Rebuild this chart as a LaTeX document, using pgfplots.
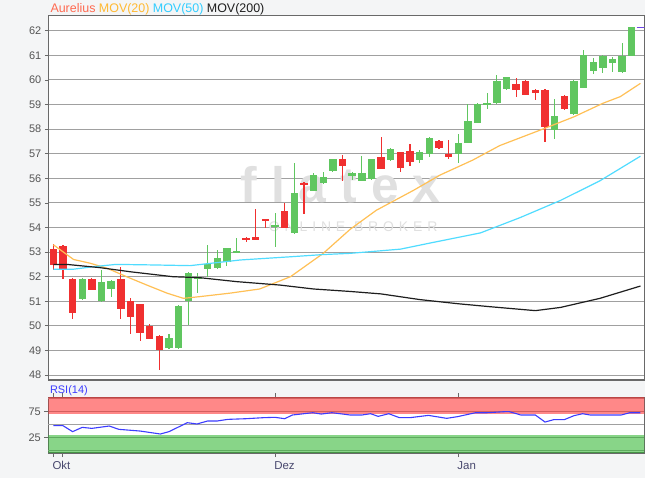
\documentclass[border=0pt]{standalone}
\usepackage{pgfplots}
\pgfplotsset{compat=1.18}
\usepackage{pgfplotstable}
\usepackage{fontspec}
\setmainfont{Liberation Sans}
\definecolor{bgc}{RGB}{244,245,246}
\definecolor{cgreen}{RGB}{96,198,96}
\definecolor{cred}{RGB}{240,48,48}
\definecolor{corange}{RGB}{255,192,85}
\definecolor{ccyan}{RGB}{80,220,255}
\definecolor{cblack}{RGB}{30,30,30}
\definecolor{gridc}{RGB}{160,160,160}
\definecolor{framec}{RGB}{105,105,105}
\definecolor{tickc}{RGB}{85,85,85}
\definecolor{lgred}{RGB}{255,105,80}
\definecolor{lgorange}{RGB}{255,185,50}
\definecolor{lgcyan}{RGB}{50,205,255}
\definecolor{rsiblue}{RGB}{60,60,255}
\definecolor{bandred}{RGB}{255,40,40}
\definecolor{bandgreen}{RGB}{40,180,40}
\definecolor{lastc}{RGB}{110,70,230}
\definecolor{wmark}{RGB}{224,224,224}

% candles: index, open, high, low, close
\pgfplotstableread{
i O H L C
3 51.08 51.93 51.06 51.91
5 51.00 52.27 50.98 51.77
6 51.50 51.86 51.19 51.84
12 49.09 49.66 49.07 49.50
13 49.09 50.84 49.07 50.82
14 51.00 52.18 50.04 52.16
15 51.93 52.16 51.33 51.97
16 52.31 53.28 52.00 52.52
17 52.34 53.10 52.30 52.77
18 52.61 53.17 52.43 53.15
19 53.00 53.56 52.98 53.04
23 54.05 54.58 53.22 54.09
25 53.76 56.63 53.74 55.41
27 55.50 56.20 55.48 56.13
28 55.80 56.24 55.78 56.04
29 56.31 56.80 56.25 56.77
31 56.09 56.26 55.93 56.23
32 55.90 56.90 55.88 56.20
33 55.97 56.80 55.95 56.78
35 56.74 57.22 56.70 57.18
38 56.74 57.17 56.63 57.08
39 57.00 57.67 56.88 57.65
42 57.00 57.80 56.63 57.45
43 57.45 59.02 57.43 58.34
44 58.26 59.05 58.24 59.02
45 58.98 59.46 58.80 59.05
46 59.05 60.20 59.03 59.97
47 59.63 60.13 59.60 60.11
52 57.96 59.21 57.60 58.53
54 58.60 59.98 58.58 59.96
55 59.68 61.22 59.66 61.01
56 60.36 60.88 60.24 60.72
57 60.50 61.00 60.27 60.98
58 60.70 60.94 60.31 60.84
59 60.31 61.49 60.29 60.98
60 60.98 62.17 60.96 62.14
}\upc
\pgfplotstableread{
i O H L C
0 53.12 53.33 52.27 52.48
1 53.26 53.28 51.90 52.27
2 51.91 51.93 50.28 50.51
4 51.91 51.93 51.44 51.46
7 51.91 52.38 50.28 50.69
8 51.01 51.12 49.67 50.35
9 50.89 50.91 49.39 49.72
10 50.00 50.08 49.45 49.47
11 49.59 49.61 48.20 49.00
20 53.55 53.63 53.40 53.50
21 53.58 54.74 53.50 53.53
22 54.34 54.36 53.97 54.26
24 54.68 54.98 53.98 54.00
26 55.82 55.84 54.55 55.71
30 56.77 56.95 55.89 56.50
34 56.85 57.69 56.36 56.38
36 57.06 57.08 56.27 56.43
37 57.12 57.40 56.51 56.67
40 57.52 57.54 57.20 57.24
41 56.98 57.56 56.78 56.88
48 59.83 60.07 59.29 59.59
49 59.96 59.98 59.37 59.39
50 59.59 59.62 59.18 59.48
51 59.59 59.62 57.49 58.07
53 59.36 59.38 58.78 58.80
}\downc
\pgfplotstableread{
i v
0 53.30
2.1 52.70
3.8 52.55
5.6 52.34
7.6 52.00
9.7 51.66
11.8 51.33
13.5 51.12
15.2 51.19
18.3 51.33
21.4 51.50
24.6 52.00
28.0 52.95
30.8 53.93
33.5 54.70
37.4 55.52
40.1 56.13
43.5 56.74
46.3 57.33
50.5 57.96
54.0 58.50
57.0 59.05
58.8 59.32
60.9 59.86
}\movtwenty
\pgfplotstableread{
i v
0 52.30
2 52.30
4 52.40
6.5 52.50
10 52.48
14.2 52.45
19.4 52.68
24.6 52.81
28 52.90
30.8 52.95
36 53.12
39.1 53.37
44.3 53.78
48.4 54.40
52.6 55.10
56.7 55.90
60.9 56.90
}\movfifty
\pgfplotstableread{
i v
0 52.50
1.4 52.50
4.8 52.37
8 52.20
12.4 52.00
15.2 51.96
19 51.80
23.5 51.66
27 51.50
30.8 51.40
34 51.30
38 51.07
42 50.90
45.3 50.78
50 50.62
52.6 50.75
56.7 51.12
60.9 51.62
}\movtwohundred
\pgfplotstableread{
i v
0 47.7
1 47.7
2 36.0
3 44.4
4 42.4
5.8 47.0
6.8 40.5
9 37.2
11.1 31.4
12 36.0
13.9 53.5
14.9 51.0
16 56.8
17 56.8
18.1 60.0
20 61.3
21.8 63.3
23 64.0
24 61.3
24.8 68.5
26.9 73.0
27.8 70.4
28.9 73.0
30.8 68.5
32 68.5
32.9 71.0
33.7 65.9
34.8 71.0
35.9 63.3
37 63.3
38.9 67.8
40.8 62.0
41.9 65.2
43.8 73.0
45 73.0
46.8 75.0
47.3 75.0
48.5 68.5
50 68.5
51 54.8
51.9 59.4
53 59.4
54 67.2
54.9 71.0
55.7 68.5
58 68.5
58.9 68.5
59.8 73.0
60.9 73.0
}\rsi

\begin{document}
\begin{tikzpicture}
\fill[bgc] (0,0) rectangle (645bp,478bp);
\useasboundingbox (0,0) rectangle (645bp,478bp);
\pgfplotsset{
  chartbase/.style={
    anchor=south west, scale only axis, width=596bp,
    xmin=-0.52, xmax=61.3,
    axis line style={framec, line width=1.1bp},
    tick align=outside, major tick length=3.5bp,
    tick style={framec, line width=0.8bp},
    tick label style={font=\fontsize{11}{13}\selectfont, text=tickc},
    /pgf/number format/assume math mode=true,
    ymajorgrids, major grid style={gridc, line width=1.1bp},
    axis background/.style={fill=white},
  },
}
% ---------- main price panel ----------
\begin{axis}[chartbase, name=main,
  at={(48.3bp,98bp)}, height=364.5bp,
  ymin=47.8, ymax=62.62,
  xtick=\empty, ytick={48,49,...,62},
]
\node[text=wmark, font=\fontsize{50}{50}\selectfont\bfseries\addfontfeature{LetterSpace=28}, anchor=base] at (axis cs:29.8,55.0) {flatex};
\node[text=wmark, font=\fontsize{14}{14}\selectfont\addfontfeature{LetterSpace=35}, anchor=base] at (axis cs:31.1,53.85) {ONLINE BROKER};
\addplot[draw=none, mark=none, forget plot, error bars/.cd, y dir=both, y explicit, error mark=none,
  error bar style={draw=cgreen, line width=1.1bp}]
  table[x=i, y expr={(\thisrow{H}+\thisrow{L})/2}, y error expr={(\thisrow{H}-\thisrow{L})/2}] {\upc};
\addplot[draw=none, mark=none, forget plot, error bars/.cd, y dir=both, y explicit, error mark=none,
  error bar style={draw=cred, line width=1.1bp}]
  table[x=i, y expr={(\thisrow{H}+\thisrow{L})/2}, y error expr={(\thisrow{H}-\thisrow{L})/2}] {\downc};
\addplot[draw=none, mark=none, forget plot, error bars/.cd, y dir=both, y explicit, error mark=none,
  error bar style={draw=cgreen, line width=7.4bp, line cap=butt}]
  table[x=i, y expr={(\thisrow{O}+\thisrow{C})/2}, y error expr={max(abs(\thisrow{C}-\thisrow{O})/2,0.045)}] {\upc};
\addplot[draw=none, mark=none, forget plot, error bars/.cd, y dir=both, y explicit, error mark=none,
  error bar style={draw=cred, line width=7.4bp, line cap=butt}]
  table[x=i, y expr={(\thisrow{O}+\thisrow{C})/2}, y error expr={max(abs(\thisrow{C}-\thisrow{O})/2,0.045)}] {\downc};
\addplot[corange, line width=1.2bp, mark=none] table[x=i, y=v] {\movtwenty};
\addplot[ccyan, line width=1.2bp, mark=none] table[x=i, y=v] {\movfifty};
\addplot[cblack, line width=1.2bp, mark=none] table[x=i, y=v] {\movtwohundred};
\addplot[lastc, line width=1.2bp, mark=none] coordinates {(60.5,62.14) (61.4,62.14)};
\end{axis}
\node[anchor=base west, inner sep=0pt, font=\fontsize{12.5}{14}\selectfont] at ([xshift=2bp, yshift=3bp]main.north west)
  {\textcolor{lgred}{Aurelius} \textcolor{lgorange}{MOV(20)} \textcolor{lgcyan}{MOV(50)} \textcolor{cblack}{MOV(200)}};
% ---------- RSI panel ----------
\begin{axis}[chartbase, name=rsip,
  at={(48.3bp,25bp)}, height=55.7bp,
  ymin=-5.7, ymax=103.1,
  ytick={25,75}, extra y ticks={0,50,100}, extra y tick labels={},
  extra y tick style={major tick length=0pt, grid=major},
  xtick={0,1,23,42}, xticklabels={Okt,,Dez,Jan},
  xticklabel style={anchor=north west, inner sep=0pt, xshift=-1bp, yshift=-4bp, font=\fontsize{11.5}{13}\selectfont, text=tickc!85!blue},
  xtick style={framec, line width=1bp}, major tick length=4bp,
]
\addplot[draw=none, fill=bandred, fill opacity=0.55, forget plot] coordinates {(-1,70) (62,70) (62,110) (-1,110)} -- cycle;
\addplot[draw=none, fill=bandgreen, fill opacity=0.55, forget plot] coordinates {(-1,-10) (62,-10) (62,30) (-1,30)} -- cycle;
\addplot[rsiblue, line width=1.1bp, mark=none] table[x=i, y=v] {\rsi};
\end{axis}
\node[anchor=base west, inner sep=0pt, text=rsiblue, font=\fontsize{11}{13}\selectfont] at ([xshift=1.5bp, yshift=4bp]rsip.north west) {RSI(14)};
\end{tikzpicture}
\end{document}
